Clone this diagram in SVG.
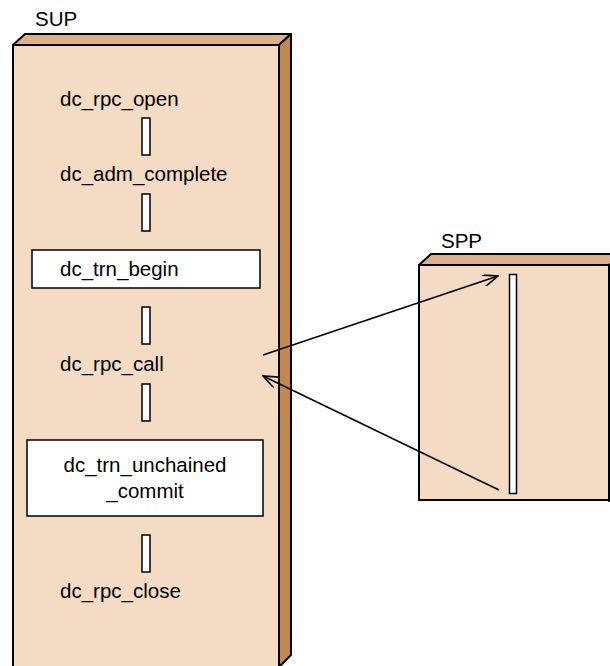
<svg xmlns="http://www.w3.org/2000/svg" width="610" height="666" viewBox="0 0 610 666">
<defs>
<style>
.front{fill:#F4DBC3;stroke:#000;stroke-width:2}
.top{fill:#DDB088;stroke:#000;stroke-width:2;stroke-linejoin:round}
.side{fill:#C4884F;stroke:#000;stroke-width:2;stroke-linejoin:round}
.bar{fill:#fff;stroke:#000;stroke-width:1.5}
.box{fill:#fff;stroke:#000;stroke-width:1.5}
text{font-family:"Liberation Sans",Arial,sans-serif;font-size:20.5px;fill:#000}
.conn{stroke:#000;stroke-width:1.6;fill:none}
</style>
<marker id="arr" viewBox="0 0 16 12" refX="15" refY="6" markerWidth="16" markerHeight="12" markerUnits="userSpaceOnUse" orient="auto">
<path d="M0,0 L15,6 L0,12" fill="none" stroke="#000" stroke-width="1.6"/>
</marker>
</defs>
<rect width="610" height="666" fill="#fff"/>
<g id="SUP">
<text x="35" y="26">SUP</text>
<polygon class="top" points="13,45 25,34 291,34 279,45"/>
<polygon class="side" points="279,45 291,34 291,655 279,667"/>
<rect class="front" x="13" y="45" width="266" height="625"/>
</g>
<g id="dc_rpc_open"><text x="60" y="106">dc_rpc_open</text></g>
<g id="bar1"><rect class="bar" x="142" y="118" width="8" height="37"/></g>
<g id="dc_adm_complete"><text x="60" y="181">dc_adm_complete</text></g>
<g id="bar2"><rect class="bar" x="142" y="194" width="8" height="37"/></g>
<g id="dc_trn_begin"><rect class="box" x="32" y="250" width="228" height="38"/><text x="60" y="276">dc_trn_begin</text></g>
<g id="bar3"><rect class="bar" x="142" y="307" width="8" height="37"/></g>
<g id="dc_rpc_call"><text x="60" y="371">dc_rpc_call</text></g>
<g id="bar4"><rect class="bar" x="142" y="384" width="8" height="37"/></g>
<g id="dc_trn_unchained_commit"><rect class="box" x="27" y="440" width="236" height="76"/><text x="145" y="472" text-anchor="middle">dc_trn_unchained</text><text x="145" y="498" text-anchor="middle">_commit</text></g>
<g id="bar5"><rect class="bar" x="142" y="535" width="8" height="37"/></g>
<g id="dc_rpc_close"><text x="60" y="598">dc_rpc_close</text></g>
<g id="SPP">
<text x="441" y="248">SPP</text>
<polygon class="top" points="419,265 431,254 622,254 610,265"/>
<polygon class="side" points="609,265 621,254 621,490 609,501"/>
<rect class="front" x="419" y="265" width="190" height="235"/>
<rect class="bar" x="509.5" y="274.5" width="7" height="219"/>
</g>
<g id="connectors">
<line class="conn" x1="263" y1="355" x2="498" y2="276" marker-end="url(#arr)"/>
<line class="conn" x1="499" y1="490" x2="263" y2="376" marker-end="url(#arr)"/>
</g>
</svg>
